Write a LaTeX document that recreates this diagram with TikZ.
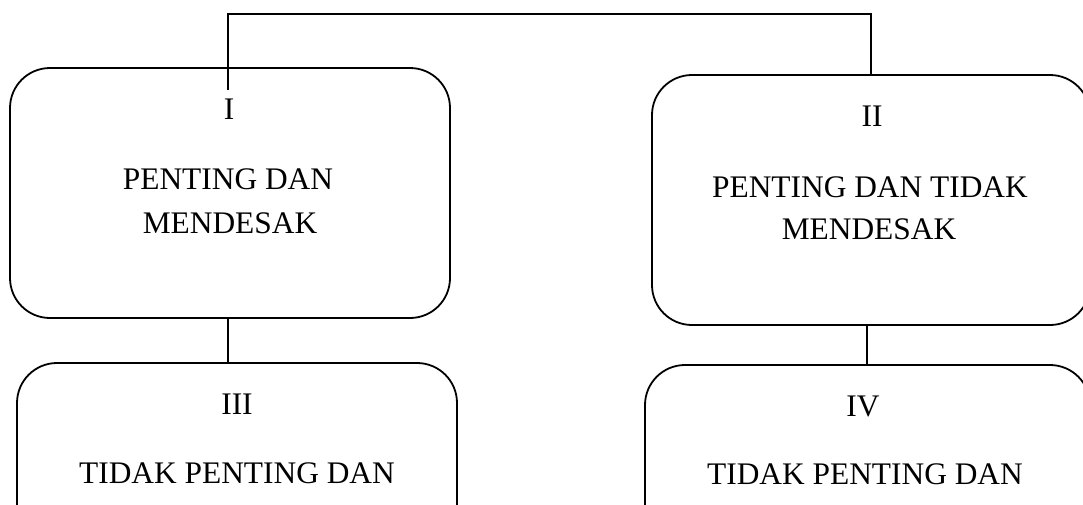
\documentclass[tikz,border=0pt]{standalone}
\usepackage{fontspec}
\setmainfont{Liberation Serif}
\begin{document}
\begin{tikzpicture}[x=1pt,y=-1pt,
  box/.style={draw,line width=1.8pt,rounded corners=40pt,inner sep=0pt,
    minimum width=#1,minimum height=250pt},
  lbl/.style={anchor=base,inner sep=0pt,font=\fontsize{31.4}{38}\selectfont},
  conn/.style={line width=1.8pt}]
\clip (0,0) rectangle (1083,504);
% boxes
\node[box=440pt] (b1) at (230,193) {};
\node[box=438pt] (b2) at (871,200) {};
\node[box=440pt] (b3) at (237,488) {};
\node[box=445pt] (b4) at (867.5,490) {};
% texts
\node[lbl] (t1a) at (229,119) {I};
\node[lbl] (t1b) at (228,189) {PENTING DAN};
\node[lbl] (t1c) at (230,233) {MENDESAK};
\node[lbl] (t2a) at (872,126) {II};
\node[lbl] (t2b) at (870,197) {PENTING DAN TIDAK};
\node[lbl] (t2c) at (869,239) {MENDESAK};
\node[lbl] (t3a) at (237,414) {III};
\node[lbl] (t3b) at (237,483) {TIDAK PENTING DAN};
\node[lbl] (t3c) at (237,527) {MENDESAK};
\node[lbl] (t4a) at (863,416) {IV};
\node[lbl] (t4b) at (865,484) {TIDAK PENTING DAN};
% connectors
\coordinate (p1) at (228,90);
\coordinate (p2) at (228,14);
\coordinate (p3) at (871,14);
\draw[conn] (p1) -- (p2) -- (p3) -- (b2.north);
\draw[conn] (b1.south -| p1) -- (b3.north -| p1);
\coordinate (q) at (867,0);
\draw[conn] (b2.south -| q) -- (b4.north -| q);
\end{tikzpicture}
\end{document}
